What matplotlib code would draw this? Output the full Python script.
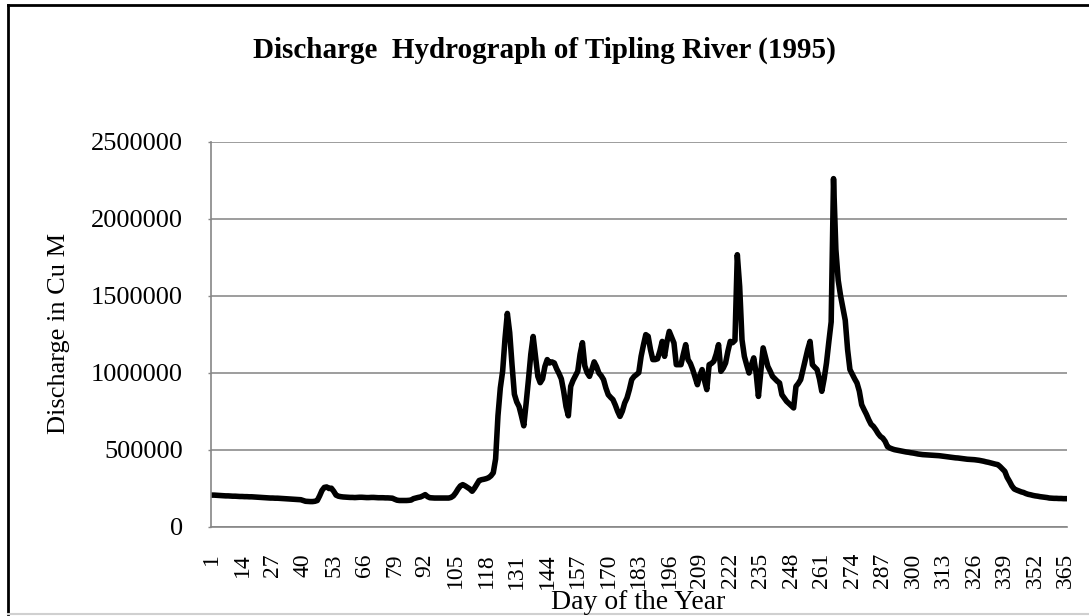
import matplotlib
matplotlib.use("Agg")
import matplotlib.pyplot as plt
from matplotlib.lines import Line2D

# Daily discharge (in thousand Cu M), day 1..365
discharge_thousand = [
    205, 205, 204, 203, 202, 201, 200, 200, 199, 198,
    198, 197, 196, 196, 195, 195, 194, 194, 193, 192,
    191, 190, 189, 188, 187, 186, 186, 185, 185, 184,
    183, 182, 181, 180, 179, 178, 177, 176, 175, 170,
    165, 164, 163, 163, 165, 170, 200, 235, 255, 258,
    248, 250, 230, 205, 198, 195, 193, 192, 191, 190,
    190, 189, 190, 191, 191, 190, 189, 189, 190, 190,
    189, 188, 188, 188, 187, 187, 186, 185, 178, 172,
    170, 170, 170, 170, 171, 173, 182, 186, 190, 193,
    200, 208, 195, 188, 187, 186, 186, 186, 186, 186,
    186, 186, 190, 200, 220, 245, 265, 273, 265, 255,
    245, 230, 250, 275, 300, 305, 308, 312, 318, 330,
    350, 440, 720, 900, 1010, 1220, 1385, 1260, 1050, 860,
    810, 780, 720, 655, 800, 955, 1120, 1235, 1106, 976,
    935, 960, 1040, 1085, 1063, 1070, 1063, 1025, 995, 960,
    880, 780, 720, 911, 950, 980, 1009, 1120, 1195, 1045,
    1000, 976, 1020, 1070, 1040, 998, 980, 955, 900, 857,
    840, 825, 790, 749, 716, 750, 803, 836, 890, 955,
    975, 987, 1000, 1106, 1180, 1247, 1236, 1150, 1085, 1085,
    1090, 1140, 1203, 1106, 1200, 1268, 1230, 1193, 1052, 1052,
    1052, 1120, 1182, 1085, 1060, 1020, 970, 922, 980, 1020,
    950, 890, 1052, 1060, 1074, 1120, 1182, 1009, 1030, 1063,
    1140, 1203, 1195, 1210, 1766, 1560, 1214, 1106, 1050, 998,
    1050, 1096, 1000, 846, 1000, 1161, 1100, 1041, 1010, 976,
    960, 945, 933, 857, 835, 814, 800, 785, 771, 911,
    930, 955, 1020, 1085, 1150, 1203, 1052, 1035, 1020, 960,
    879, 960, 1063, 1200, 1330, 2260, 1800, 1600, 1500, 1420,
    1340, 1150, 1020, 990, 960, 933, 880, 792, 760, 730,
    695, 665, 651, 630, 605, 586, 575, 554, 520, 511,
    505, 500, 497, 494, 491, 488, 485, 483, 480, 478,
    475, 472, 470, 468, 467, 466, 465, 464, 463, 462,
    461, 459, 457, 455, 453, 451, 449, 447, 446, 444,
    442, 440, 438, 437, 436, 435, 433, 431, 428, 425,
    421, 418, 414, 410, 406, 403, 390, 375, 359, 320,
    294, 265, 245, 238, 232, 226, 222, 215, 210, 207,
    203, 200, 198, 195, 193, 191, 189, 186, 185, 184,
    184, 183, 183, 182, 182,
]
assert len(discharge_thousand) == 365

days = list(range(1, 366))
discharge = [v * 1000 for v in discharge_thousand]

x_ticks = list(range(1, 366, 13))
y_ticks = [0, 500000, 1000000, 1500000, 2000000, 2500000]

plt.rcParams['font.family'] = ['Liberation Serif', 'DejaVu Serif']

fig = plt.figure(figsize=(10.89, 6.16), dpi=100)
ax = fig.add_axes([0.1933, 0.1450, 0.7865, 0.6250])

ax.plot(days, discharge, color='black', lw=4, solid_joinstyle='round')

ax.set_xlim(0.5, 365.5)
ax.set_ylim(0, 2500000)
ax.set_yticks(y_ticks)
ax.set_yticklabels([str(v) for v in y_ticks], fontsize=19)
ax.set_xticks(x_ticks)
ax.set_xticklabels([str(d) for d in x_ticks], rotation=90, fontsize=17)
ax.tick_params(axis='x', length=0, pad=19)
ax.tick_params(axis='y', length=2, width=1, pad=18, color='#868686')

ax.grid(axis='y', color='#8c8c8c', lw=1.2)
ax.set_axisbelow(True)
for s in ['top', 'right']:
    ax.spines[s].set_visible(False)
for s in ['left', 'bottom']:
    ax.spines[s].set_color('#868686')
    ax.spines[s].set_linewidth(1.2)

# Titles
fig.text(0.4995, 0.919, 'Discharge  Hydrograph of Tipling River (1995)',
         ha='center', va='center', fontsize=21, fontweight='bold')
fig.text(0.054, 0.458, 'Discharge in Cu M', rotation=90,
         ha='center', va='center', fontsize=19)
fig.text(0.586, 0.0114, 'Day of the Year', ha='center', va='baseline',
         fontsize=20)

# chart frame (left/top black, bottom light gray)
fig.add_artist(Line2D([0.0078, 0.0078], [0.0032, 0.9919], color='black',
                      lw=2, transform=fig.transFigure))
fig.add_artist(Line2D([0.0078, 1.0], [0.9919, 0.9919], color='black',
                      lw=2, transform=fig.transFigure))
fig.add_artist(Line2D([0.0078, 1.0], [0.0032, 0.0032], color='#d0d0d0',
                      lw=1.5, transform=fig.transFigure))

fig.savefig('out.png', dpi=100)
